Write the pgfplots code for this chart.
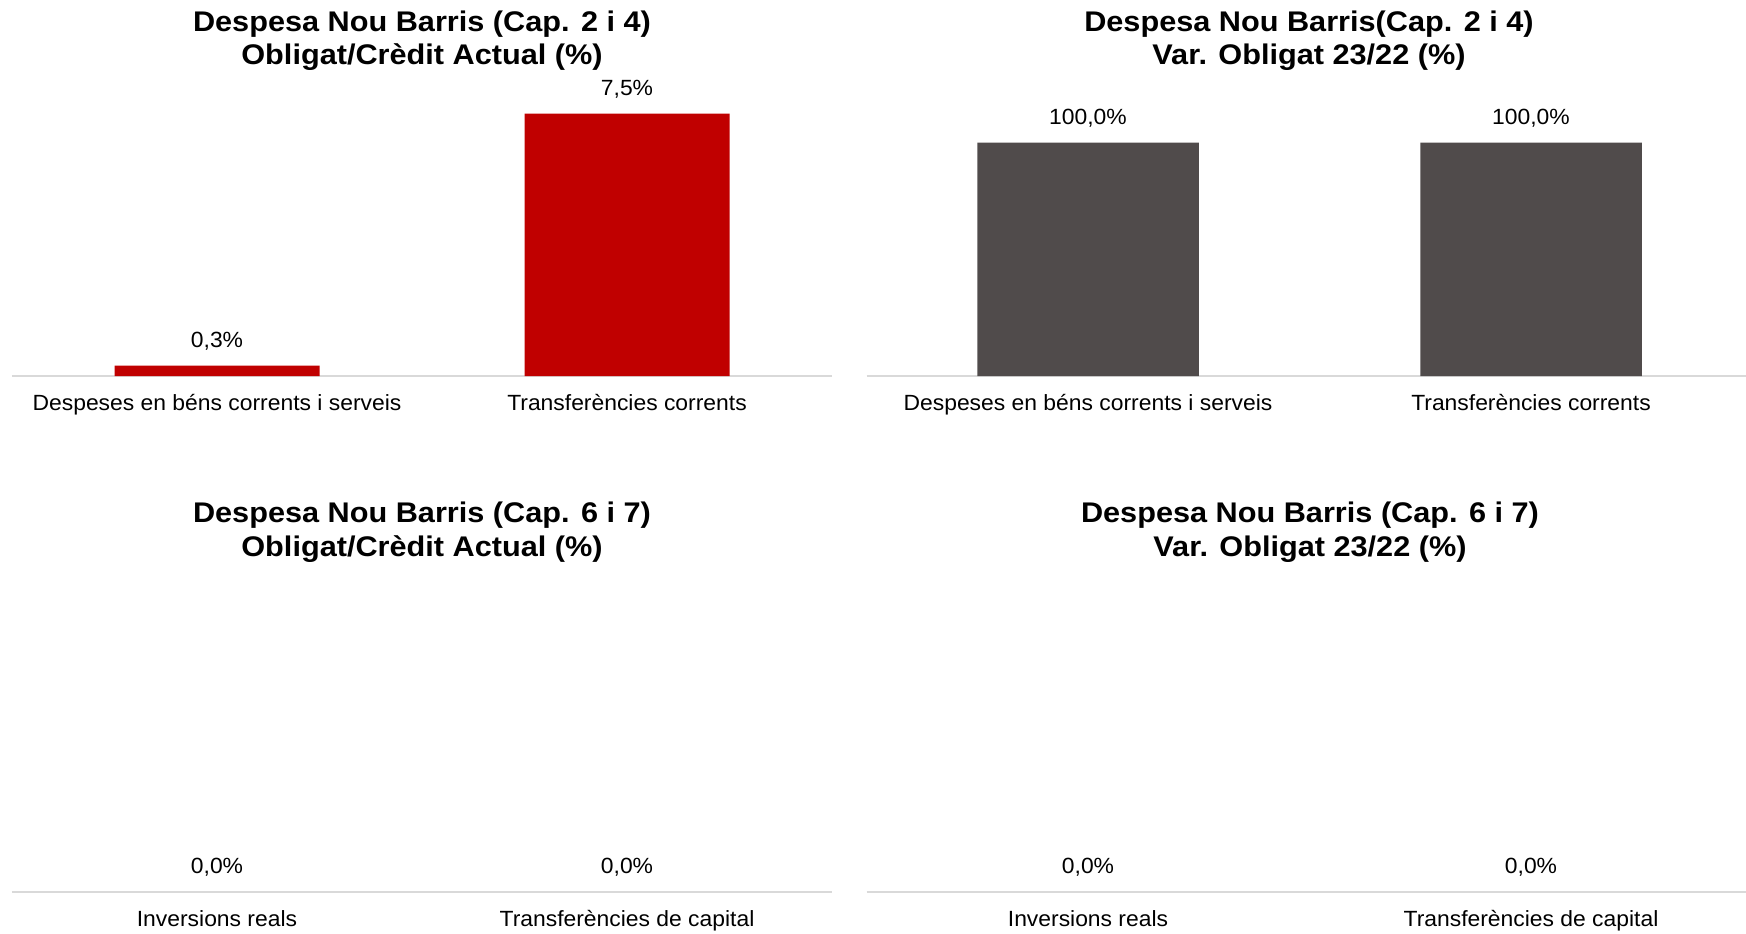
\documentclass[border=0pt]{standalone}
\usepackage{fontspec}
\setmainfont{Liberation Sans}
\newfontfamily\titlefont[FakeStretch=1.08]{Liberation Sans}
\newfontfamily\lblfont[FakeStretch=1.04]{Liberation Sans}
\usepackage{pgfplots}
\pgfplotsset{compat=1.18}
\definecolor{barred}{RGB}{192,0,0}
\definecolor{bargray}{RGB}{80,75,75}
\definecolor{axgray}{RGB}{217,217,217}
\newcommand{\lblsize}{\lblfont\fontsize{11}{13}\selectfont}
\newcommand{\ttlsize}{\titlefont\bfseries\fontsize{14.2}{16}\selectfont}
\pgfplotsset{
  panel/.style={
    scale only axis, anchor=south west, clip=false,
    xmin=-0.5, xmax=1.5, ymin=0,
    axis x line*=bottom, axis y line=none,
    x axis line style={draw=axgray, line width=1.4pt},
    xtick={0,1}, major tick length=0pt, ytick=\empty,
    xticklabel style={font=\lblsize, anchor=base, yshift=-17pt, inner sep=0pt},
    ybar, bar width=0.5,
    /pgf/number format/assume math mode=true,
    /pgf/number format/fixed,
    /pgf/number format/fixed zerofill,
    /pgf/number format/precision=1,
    /pgf/number format/use comma,
    nodes near coords={\pgfmathprintnumber{\pgfplotspointmeta}\%},
    every node near coord/.append style={font=\lblsize, anchor=base, yshift=9.2pt, inner sep=0pt, text=black},
  }
}
\begin{document}
\begin{tikzpicture}
\path[use as bounding box] (0,0) rectangle (873pt,-466.5pt);
% Top-left
\begin{axis}[panel, at={(6pt,-188pt)}, x=205pt, y=17.5pt, ymax=7.9,
  xticklabels={Despeses en béns corrents i serveis, Transferències corrents}]
\addplot[fill=barred, draw=none] coordinates {(0,0.3) (1,7.5)};
\end{axis}
% Top-right
\begin{axis}[panel, at={(433.25pt,-188pt)}, x=221.5pt, y=1.1675pt, ymax=110,
  xticklabels={Despeses en béns corrents i serveis, Transferències corrents}]
\addplot[fill=bargray, draw=none] coordinates {(0,100) (1,100)};
\end{axis}
% Bottom-left
\begin{axis}[panel, at={(6pt,-446pt)}, x=205pt, y=100pt, ymax=1,
  xticklabels={Inversions reals, Transferències de capital}]
\addplot[fill=none, draw=none] coordinates {(0,0) (1,0)};
\end{axis}
% Bottom-right
\begin{axis}[panel, at={(433.25pt,-446pt)}, x=221.5pt, y=100pt, ymax=1,
  xticklabels={Inversions reals, Transferències de capital}]
\addplot[fill=none, draw=none] coordinates {(0,0) (1,0)};
\end{axis}
% Titles
\node[anchor=base, inner sep=0pt] at (211pt,-15.5pt) {\ttlsize Despesa Nou Barris (Cap. 2 i 4)};
\node[anchor=base, inner sep=0pt] at (211pt,-32.3pt) {\ttlsize Obligat/Crèdit Actual (\%)};
\node[anchor=base, inner sep=0pt] at (654.5pt,-15.5pt) {\ttlsize Despesa Nou Barris(Cap. 2 i 4)};
\node[anchor=base, inner sep=0pt] at (654.5pt,-32.3pt) {\ttlsize Var. Obligat 23/22 (\%)};
\node[anchor=base, inner sep=0pt] at (211pt,-261pt) {\ttlsize Despesa Nou Barris (Cap. 6 i 7)};
\node[anchor=base, inner sep=0pt] at (211pt,-278pt) {\ttlsize Obligat/Crèdit Actual (\%)};
\node[anchor=base, inner sep=0pt] at (655pt,-261pt) {\ttlsize Despesa Nou Barris (Cap. 6 i 7)};
\node[anchor=base, inner sep=0pt] at (655pt,-278pt) {\ttlsize Var. Obligat 23/22 (\%)};
\end{tikzpicture}
\end{document}
